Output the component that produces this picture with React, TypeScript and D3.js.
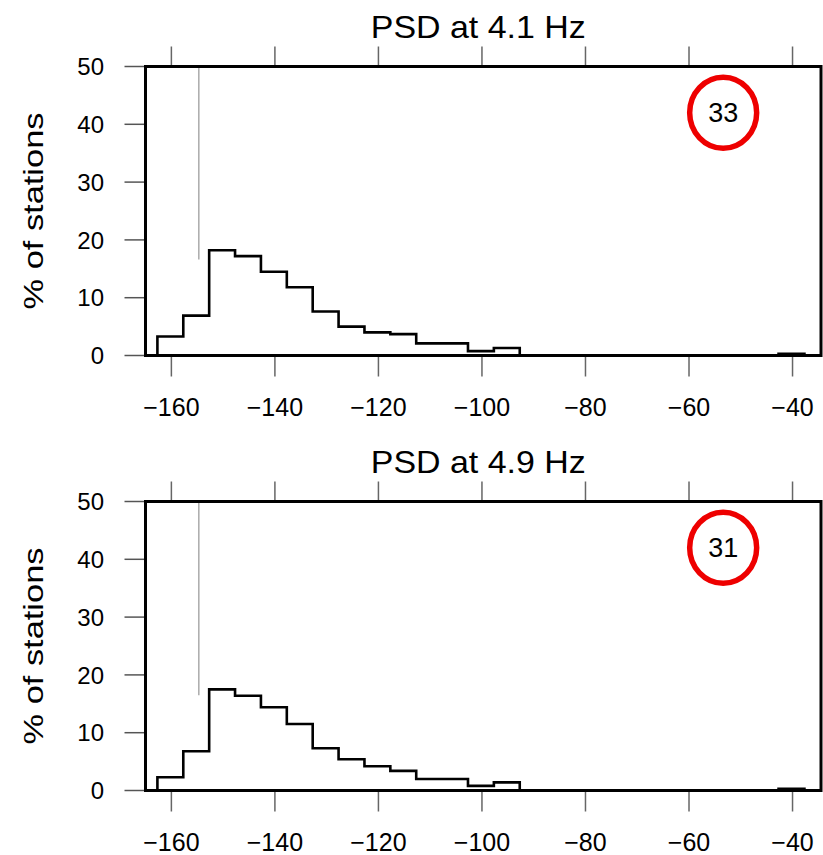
import React from 'react';
import * as d3 from 'd3';

// bin centres (dB), 5 dB wide
const binCenters = [
  -160.2, -155.2, -150.2, -145.2, -140.2, -135.2, -130.2, -125.2, -120.2, -115.2,
  -110.2, -105.2, -100.2, -95.2, -90.2, -85.2, -80.2, -75.2, -70.2, -65.2,
  -60.2, -55.2, -50.2, -45.2, -40.2,
];
const binWidth = 5;

// % of stations per bin
const pct41 = [
  3.3, 6.9, 18.2, 17.2, 14.5, 11.8, 7.6, 5.0, 4.0, 3.7,
  2.1, 2.1, 0.75, 1.3, 0, 0, 0, 0, 0, 0,
  0, 0, 0, 0, 0.3,
];
const pct49 = [
  2.3, 6.8, 17.5, 16.4, 14.4, 11.5, 7.3, 5.4, 4.2, 3.4,
  2.0, 2.0, 0.8, 1.4, 0, 0, 0, 0, 0, 0,
  0, 0, 0, 0, 0.3,
];

const panels = [
  { title: 'PSD at 4.1 Hz', values: pct41, refX: -154.7, refLow: 16.6, count: '33', countX: -53.4, countY: 42 },
  { title: 'PSD at 4.9 Hz', values: pct49, refX: -154.7, refLow: 16.5, count: '31', countX: -53.4, countY: 42 },
];

const xTicks = [-160, -140, -120, -100, -80, -60, -40];
const yTicks = [0, 10, 20, 30, 40, 50];

const W = 823;
const H = 855;
const font = '"Liberation Sans", Arial, Helvetica, sans-serif';

const Panel = ({ p, top }: { p: typeof panels[0]; top: number }) => {
  const left = 145.5;
  const right = 821;
  const bottom = top + 289;
  const x = d3.scaleLinear().domain([-165, -34.5]).range([left, right]);
  const y = d3.scaleLinear().domain([0, 50]).range([bottom, top]);

  const pts: [number, number][] = [[binCenters[0] - binWidth / 2, 0]];
  binCenters.forEach((c, i) => pts.push([c - binWidth / 2, p.values[i]]));
  pts.push([binCenters[binCenters.length - 1] + binWidth / 2, 0]);
  const line = d3.line<[number, number]>()
    .x(d => x(d[0]))
    .y(d => y(d[1]))
    .curve(d3.curveStepAfter);

  return (
    <g>
      <text x={(left + right) / 2 - 5} y={top - 29} textAnchor="middle" fontSize={32}
        textLength={215} lengthAdjust="spacingAndGlyphs">{p.title}</text>

      {/* x ticks top & bottom */}
      {xTicks.map(t => (
        <g key={t}>
          <line x1={x(t)} x2={x(t)} y1={top - 20} y2={top} stroke="#666" strokeWidth={1.5} />
          <line x1={x(t)} x2={x(t)} y1={bottom} y2={bottom + 21} stroke="#666" strokeWidth={1.5} />
          <text x={x(t)} y={bottom + 60} textAnchor="middle" fontSize={25}>
            {t < 0 ? '\u2212' + Math.abs(t) : t}
          </text>
        </g>
      ))}

      {/* y ticks */}
      {yTicks.map(t => (
        <g key={t}>
          <line x1={left - 21} x2={left} y1={y(t)} y2={y(t)} stroke="#555" strokeWidth={1.5} />
          <text x={104} y={y(t)} dy="0.36em" textAnchor="end" fontSize={24}>{t}</text>
        </g>
      ))}

      <text transform={`translate(43,${(top + bottom) / 2}) rotate(-90)`} textAnchor="middle"
        fontSize={28} textLength={197} lengthAdjust="spacingAndGlyphs">% of stations</text>

      {/* reference line */}
      <line x1={x(p.refX)} x2={x(p.refX)} y1={y(50)} y2={y(p.refLow)} stroke="#aaa" strokeWidth={1.5} />

      <path d={line(pts) || ''} fill="none" stroke="#000" strokeWidth={2.6} strokeLinejoin="miter" />

      <rect x={left} y={top} width={right - left} height={bottom - top} fill="none" stroke="#000" strokeWidth={3} />

      <ellipse cx={x(p.countX)} cy={y(p.countY)} rx={33.5} ry={35.5} fill="none" stroke="#ee0000" strokeWidth={5.5} />
      <text x={x(p.countX)} y={y(p.countY)} dy="0.36em" textAnchor="middle" fontSize={27}>{p.count}</text>
    </g>
  );
};

export default function App() {
  return (
    <svg width={W} height={H} style={{ position: 'absolute', left: 0, top: 0, background: '#fff' }}
      fontFamily={font} fill="#000">
      <rect width={W} height={H} fill="#fff" />
      <Panel p={panels[0]} top={66.5} />
      <Panel p={panels[1]} top={501.5} />
    </svg>
  );
}
